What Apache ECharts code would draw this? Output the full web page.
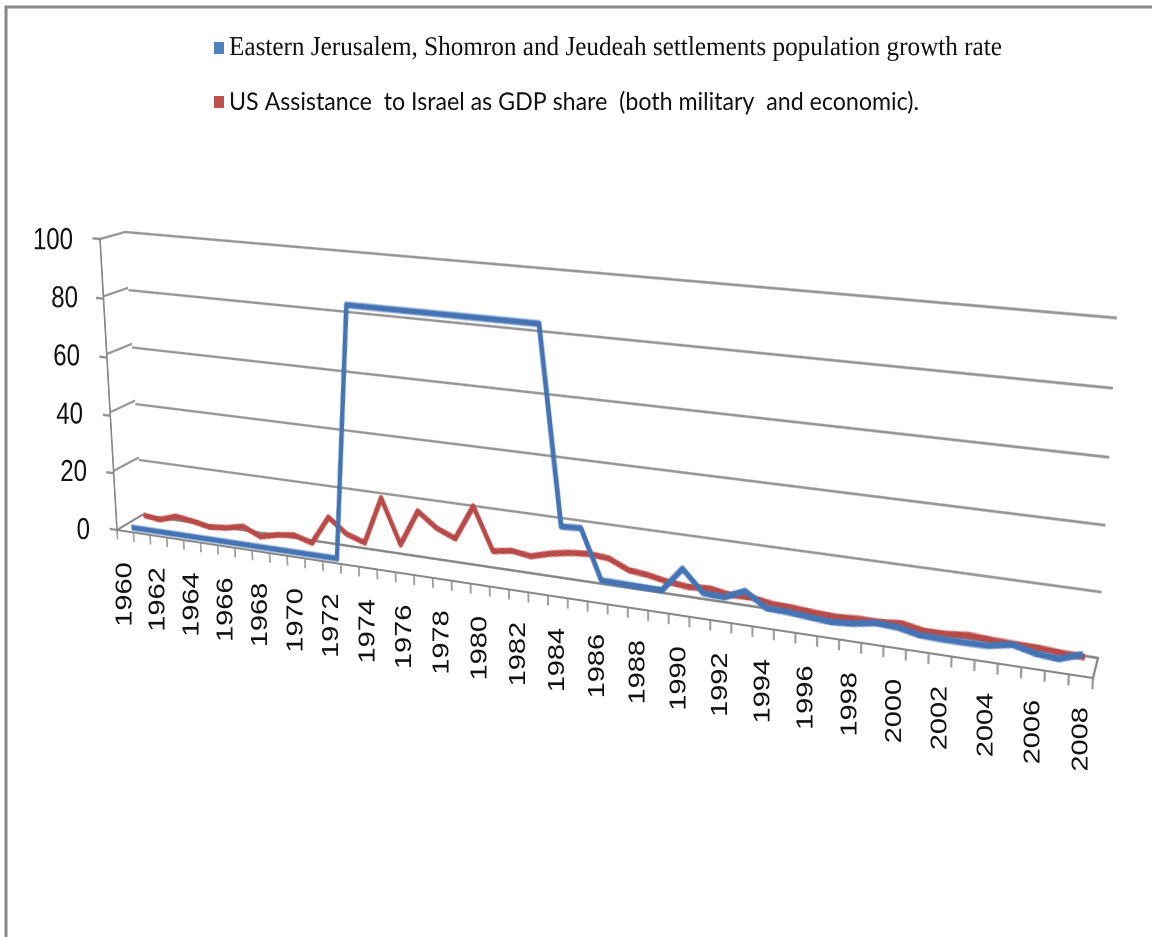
<!DOCTYPE html>
<html>
<head>
<meta charset="utf-8">
<script src="https://cdn.jsdelivr.net/npm/echarts@6.0.0/dist/echarts.min.js"></script>
<style>
html, body { margin: 0; padding: 0; background: #fff; width: 1152px; height: 937px; overflow: hidden; }
.layer { position: absolute; left: 0; top: 0; }
</style>
</head>
<body>
<div id="frame" class="layer" style="width:1152px;height:937px"></div>
<div id="wall" class="layer" style="width:1100px;height:420px"></div>
<div id="side" class="layer" style="width:1100px;height:420px"></div>
<div id="floor" class="layer" style="width:1100px;height:100px"></div>
<div id="red" class="layer" style="width:1100px;height:420px"></div>
<div id="blue" class="layer" style="width:1100px;height:420px"></div>
<div id="front" class="layer" style="width:1100px;height:420px"></div>
<div id="xlab" class="layer" style="width:1152px;height:937px"></div>
<div id="ylab" class="layer" style="width:200px;height:300px"></div>
<div id="legend" class="layer" style="width:1152px;height:120px"></div>
<script>
// data
var years = ['1960','1961','1962','1963','1964','1965','1966','1967','1968','1969',
  '1970','1971','1972','1973','1974','1975','1976','1977','1978','1979',
  '1980','1981','1982','1983','1984','1985','1986','1987','1988','1989',
  '1990','1991','1992','1993','1994','1995','1996','1997','1998','1999',
  '2000','2001','2002','2003','2004','2005','2006','2007','2008'];
var settlementGrowth = [0,0,0,0,0,0,0,0,0,0,
  0,0,0,85,85,85,85,85,85,85,
  85,85,85,85,21.5,21.8,5.9,5.8,5.7,5.6,
  13.4,6.6,6.3,9.2,4.8,4.6,4.0,3.5,4.0,5.2,
  4.9,3.5,3.3,3.3,3.4,4.8,3.2,2.6,5.0];
var usAidShare = [1.7,1.0,3.0,2.2,1.0,1.6,3.0,0.3,1.8,2.6,
  0.8,10.6,5.7,3.6,19.8,4.8,17.0,12.2,9.6,21.3,
  7.2,8.2,7.3,9.1,10.3,10.9,10.3,7.4,6.7,5.4,
  4.8,5.3,4.2,4.4,3.3,3.0,2.5,2.2,2.6,2.6,
  3.2,1.9,2.0,2.6,2.2,2.0,1.9,1.4,1.2];
var yTicks = [0, 20, 40, 60, 80, 100];
var blueName = 'Eastern Jerusalem, Shomron and Jeudeah settlements population growth rate';
var redName = 'US Assistance  to Israel as GDP share  (both military  and economic).';

var GRAY = '#878787';
var BLUE = '#4474b4', RED = '#b94a47';

// 3d box corners on screen: TL, TR, BR, BL
var FLAT = [60, 40, 980, 240];
var FRONT = [[100,239],[1110,328],[1093,678],[117,530]];
var BACK = [[125,232],[1117,318],[1098,658],[142,515]];
function mix(k) {
  return FRONT.map(function (p, i) {
    return [p[0] + k * (BACK[i][0] - p[0]), p[1] + k * (BACK[i][1] - p[1])];
  });
}

// projective map of flat rect r onto quad q, applied as css matrix3d
function fit(el, r, q) {
  var x0=q[0][0], y0=q[0][1], x1=q[1][0], y1=q[1][1], x2=q[2][0], y2=q[2][1], x3=q[3][0], y3=q[3][1];
  var dx1=x1-x2, dx2=x3-x2, sx=x0-x1+x2-x3;
  var dy1=y1-y2, dy2=y3-y2, sy=y0-y1+y2-y3;
  var det=dx1*dy2-dx2*dy1;
  var g=(sx*dy2-dx2*sy)/det, h=(dx1*sy-sx*dy1)/det;
  var a=x1-x0+g*x1, b=x3-x0+h*x3, c=x0;
  var d=y1-y0+g*y1, e=y3-y0+h*y3, f=y0;
  var A=a/r[2], B=b/r[3], C=c-A*r[0]-B*r[1];
  var D=d/r[2], E=e/r[3], F=f-D*r[0]-E*r[1];
  var G=g/r[2], H=h/r[3], I=1-G*r[0]-H*r[1];
  if (el) {
    el.style.transformOrigin = '0 0';
    el.style.transform = 'matrix3d('+[A,D,0,G,B,E,0,H,0,0,1,0,C,F,0,I].join(',')+')';
  }
  return function (x, y) {
    var w = G*x+H*y+I;
    return [(A*x+B*y+C)/w, (D*x+E*y+F)/w];
  };
}

function grid(r, extra) {
  var gr = { left: r[0], top: r[1], width: r[2], height: r[3], containLabel: false, outerBoundsMode: 'none' };
  for (var k in extra) gr[k] = extra[k];
  return gr;
}
function mk(id) {
  return echarts.init(document.getElementById(id), null, { renderer: 'canvas', devicePixelRatio: 2 });
}
var hiddenX = { type: 'category', data: years, boundaryGap: true, show: false };
var hiddenY = { type: 'value', min: 0, max: 100, interval: 20, show: false };

// frame
mk('frame').setOption({
  animation: false,
  graphic: [{ type: 'polyline', shape: { points: [[6,940],[6,7],[1160,7]] },
    style: { stroke: GRAY, lineWidth: 3, fill: null } }]
});

// back wall gridlines
fit(document.getElementById('wall'), FLAT, BACK);
mk('wall').setOption({
  animation: false,
  grid: grid(FLAT),
  xAxis: hiddenX,
  yAxis: { type: 'value', min: 0, max: 100, interval: 20,
    axisLine: { show: false }, axisTick: { show: false }, axisLabel: { show: false },
    splitLine: { show: true, lineStyle: { color: GRAY, width: 1.8 } } }
});

// left side wall connectors
fit(document.getElementById('side'), FLAT, [FRONT[0], BACK[0], BACK[3], FRONT[3]]);
mk('side').setOption({
  animation: false,
  grid: grid(FLAT),
  xAxis: hiddenX,
  yAxis: { type: 'value', min: 0, max: 100, interval: 20,
    axisLine: { show: false }, axisTick: { show: false }, axisLabel: { show: false },
    splitLine: { show: true, lineStyle: { color: GRAY, width: 1.8 } } }
});

// floor outline
var FLOOR = [60, 40, 980, 20];
fit(document.getElementById('floor'), FLOOR, [BACK[3], BACK[2], FRONT[2], FRONT[3]]);
mk('floor').setOption({
  animation: false,
  grid: grid(FLOOR, { show: true, borderColor: GRAY, borderWidth: 2, backgroundColor: 'transparent' }),
  xAxis: hiddenX,
  yAxis: hiddenY
});

// series ribbons
fit(document.getElementById('red'), FLAT, mix(0.75));
mk('red').setOption({
  animation: false,
  grid: grid(FLAT),
  xAxis: hiddenX,
  yAxis: hiddenY,
  series: [{ type: 'line', data: usAidShare, symbol: 'none',
    lineStyle: { color: RED, width: 5, join: 'round' } }]
});
fit(document.getElementById('blue'), FLAT, mix(0.25));
mk('blue').setOption({
  animation: false,
  grid: grid(FLAT),
  xAxis: hiddenX,
  yAxis: hiddenY,
  series: [{ type: 'line', data: settlementGrowth, symbol: 'none',
    lineStyle: { color: BLUE, width: 5, join: 'round' } }]
});

// front axes: y axis line and floor ticks
var mF = fit(document.getElementById('front'), FLAT, FRONT);
mk('front').setOption({
  animation: false,
  grid: grid(FLAT),
  xAxis: { type: 'category', data: years, boundaryGap: true,
    axisLine: { show: false },
    axisTick: { show: true, interval: 0, length: 8, lineStyle: { color: GRAY, width: 1.6 } },
    axisLabel: { show: false } },
  yAxis: { type: 'value', min: 0, max: 100, interval: 20,
    axisLine: { show: true, lineStyle: { color: GRAY, width: 2 } },
    axisTick: { show: true, length: 9, lineStyle: { color: GRAY, width: 1.8 } },
    axisLabel: { show: false }, splitLine: { show: false } }
});

// year labels stay upright: category position from the flat axis, carried through the front projection
mk('xlab').setOption({
  animation: false,
  grid: grid(FLAT),
  xAxis: hiddenX,
  yAxis: hiddenY,
  series: [{
    type: 'custom', clip: false, silent: true,
    data: years.map(function (y) { return [y, 0]; }),
    renderItem: function (params, api) {
      var i = params.dataIndex;
      if (i % 2) return null;
      var c = api.coord([api.value(0), 0]);
      var p = mF(c[0], c[1]);
      return { type: 'text', x: p[0], y: p[1] + 31, rotation: Math.PI / 2, scaleX: 1.26,
        style: { text: years[i], fontSize: 23, fontFamily: 'Liberation Sans', fill: '#111',
          align: 'right', verticalAlign: 'middle' } };
    }
  }]
});

// y labels, upright, stretched like the source
var YL = [100, 20, 50, 227];
fit(document.getElementById('ylab'), YL, [[100,241],[150,241],[150,531],[100,531]]);
var padR = { 0: 0, 20: 3, 40: 7, 60: 10, 80: 12, 100: 17 };
var richY = {};
yTicks.forEach(function (v) {
  richY['p' + v] = { fontSize: 24, fontFamily: 'Liberation Sans', color: '#111', padding: [0, padR[v], 0, 0] };
});
mk('ylab').setOption({
  animation: false,
  grid: grid(YL),
  xAxis: hiddenX,
  yAxis: { type: 'value', min: 0, max: 100, interval: 20,
    axisLine: { show: false }, axisTick: { show: false }, splitLine: { show: false },
    axisLabel: { margin: 10, formatter: function (v) { return '{p' + v + '|' + v + '}'; }, rich: richY } }
});

// legend
fit(document.getElementById('legend'), [0, 0, 1152, 120], [[0,0],[1152,0],[1152,129.6],[0,129.6]]);
mk('legend').setOption({
  animation: false,
  grid: { left: 0, top: 0, width: 1, height: 1 },
  xAxis: hiddenX,
  yAxis: hiddenY,
  legend: {
    orient: 'vertical', left: 209, top: 27, icon: 'rect', itemWidth: 10, itemHeight: 11,
    itemGap: 26, selectedMode: false, data: [blueName, redName],
    formatter: function (n) { return n === blueName ? '{s|' + n + '}' : '{c|' + n + '}'; },
    textStyle: { color: '#111', rich: {
      s: { fontFamily: 'Liberation Serif', fontSize: 25.2, lineHeight: 24 },
      c: { fontFamily: 'Lato', fontSize: 23.2, lineHeight: 24 } } }
  },
  series: [
    { name: blueName, type: 'line', data: [], color: '#4f81bd' },
    { name: redName, type: 'line', data: [], color: '#c0504d' }
  ]
});
</script>
</body>
</html>
